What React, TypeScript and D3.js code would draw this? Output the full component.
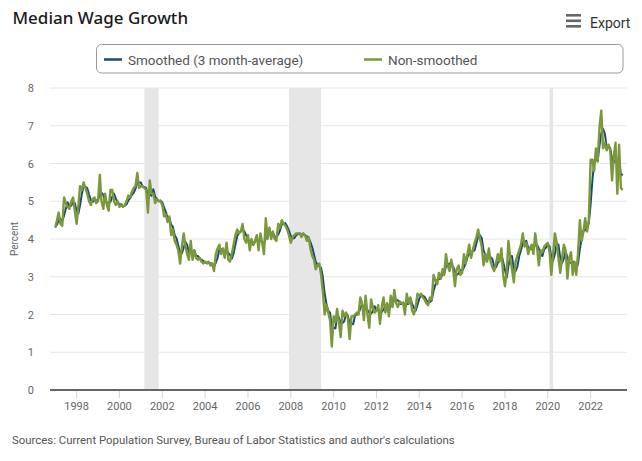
import React from "react";
import * as d3 from "d3";

const W = 642;
const H = 461;

const START_YEAR = 1997;

// Monthly values, Jan 1997 - Jul 2023
const nonSmoothed: number[] = [
  // 1997
  4.3, 4.5, 4.7, 4.4, 4.35, 5.1, 4.95, 4.85, 4.8, 5.0, 5.1, 4.75,
  // 1998
  4.4, 4.9, 5.4, 5.3, 5.5, 5.35, 5.2, 5.0, 4.9, 5.05, 5.1, 4.95,
  // 1999
  5.0, 5.7, 5.0, 4.8, 5.2, 4.9, 4.75, 5.3, 5.3, 5.0, 4.9, 5.0,
  // 2000
  4.85, 4.9, 4.85, 4.9, 5.0, 5.15, 5.1, 5.25, 5.35, 5.4, 5.75, 5.35,
  // 2001
  5.4, 5.4, 5.35, 5.3, 4.7, 5.55, 5.2, 5.2, 4.95, 5.05, 5.0, 5.0,
  // 2002
  4.9, 4.6, 4.65, 4.45, 4.6, 4.1, 4.25, 3.95, 3.85, 3.7, 3.35, 3.8,
  // 2003
  4.15, 3.8, 3.6, 3.45, 3.95, 3.45, 3.7, 3.5, 3.45, 3.5, 3.4, 3.35,
  // 2004
  3.4, 3.35, 3.4, 3.3, 3.35, 3.15, 3.6, 3.75, 3.85, 3.6, 3.75, 3.5,
  // 2005
  3.9, 3.45, 3.4, 3.6, 3.85, 4.1, 4.25, 4.15, 4.2, 4.4, 4.0, 3.9,
  // 2006
  4.1, 3.7, 4.0, 3.85, 3.95, 4.1, 3.7, 4.15, 3.9, 3.6, 4.55, 4.0,
  // 2007
  4.3, 4.0, 4.2, 4.0, 3.95, 4.4, 4.3, 4.5, 4.4, 4.35, 4.25, 4.1,
  // 2008
  3.9, 4.05, 4.1, 4.15, 4.15, 4.15, 4.05, 4.15, 4.1, 3.95, 4.05, 3.75,
  // 2009
  3.55, 3.45, 3.2, 3.3, 3.35, 3.05, 2.6, 2.0, 2.25, 2.05, 1.85, 1.15,
  // 2010
  1.95, 1.8, 2.15, 1.8, 1.4, 2.1, 1.95, 2.05, 1.9, 1.35, 1.95, 1.95,
  // 2011
  2.0, 2.05, 2.0, 2.45, 2.3, 1.85, 2.5, 2.0, 1.65, 2.4, 2.2, 2.05,
  // 2012
  2.1, 2.25, 1.75, 2.2, 2.45, 2.05, 2.3, 1.95, 2.5, 2.2, 2.65, 2.3,
  // 2013
  2.2, 2.35, 2.3, 2.3, 2.0, 2.55, 2.3, 2.45, 2.1, 2.0, 2.2, 2.55,
  // 2014
  2.5, 2.55, 2.45, 2.4, 2.3, 2.25, 2.45, 2.4, 3.05, 2.9, 2.8, 3.1,
  // 2015
  2.95, 3.2, 3.05, 3.6, 3.3, 3.15, 3.45, 3.2, 2.75, 3.2, 3.3, 3.05,
  // 2016
  3.1, 3.6, 3.35, 3.6, 3.85, 3.5, 3.7, 3.9, 4.05, 4.25, 4.0, 3.8,
  // 2017
  3.3, 3.6, 3.4, 3.75, 3.4, 3.25, 3.15, 3.35, 3.6, 3.4, 3.75, 3.05,
  // 2018
  2.75, 3.15, 3.95, 3.5, 3.2, 2.85, 3.4, 3.55, 3.7, 3.85, 4.15, 3.8,
  // 2019
  3.9, 3.6, 3.75, 3.85, 3.6, 4.15, 3.8, 3.3, 3.7, 3.65, 3.8, 3.85,
  // 2020
  3.9, 3.65, 3.05, 3.6, 4.15, 3.9, 3.5, 3.1, 3.5, 3.85, 3.7, 2.95,
  // 2021
  3.5, 3.65, 3.05, 3.4, 3.05, 3.65, 4.5, 3.95, 4.2, 4.55, 4.2, 4.5,
  // 2022
  6.1, 6.1, 5.8, 6.4, 6.05, 6.95, 7.4, 6.4, 6.55, 6.35, 6.5, 6.35,
  // 2023
  5.55, 6.2, 6.55, 5.2, 6.5, 5.35, 5.3,
];

const smoothed: number[] = [
  // 1997
  4.32, 4.38, 4.5, 4.53, 4.48, 4.62, 4.8, 4.97, 4.87, 4.88, 4.97, 4.95,
  // 1998
  4.75, 4.68, 4.9, 5.2, 5.4, 5.38, 5.35, 5.18, 5.03, 4.98, 5.02, 5.03,
  // 1999
  5.02, 5.22, 5.23, 5.17, 5.0, 4.97, 4.95, 4.98, 5.12, 5.2, 5.07, 4.97,
  // 2000
  4.92, 4.92, 4.87, 4.88, 4.92, 5.02, 5.08, 5.17, 5.23, 5.33, 5.5, 5.5,
  // 2001
  5.5, 5.38, 5.38, 5.35, 5.12, 5.18, 5.15, 5.32, 5.12, 5.07, 5.0, 5.02,
  // 2002
  4.97, 4.83, 4.72, 4.57, 4.57, 4.38, 4.32, 4.1, 4.02, 3.83, 3.63, 3.62,
  // 2003
  3.77, 3.92, 3.85, 3.62, 3.67, 3.62, 3.7, 3.55, 3.55, 3.48, 3.45, 3.42,
  // 2004
  3.38, 3.37, 3.38, 3.35, 3.35, 3.27, 3.37, 3.5, 3.73, 3.73, 3.73, 3.62,
  // 2005
  3.72, 3.62, 3.58, 3.48, 3.62, 3.85, 4.07, 4.17, 4.2, 4.25, 4.2, 4.1,
  // 2006
  4.0, 3.9, 3.93, 3.85, 3.93, 3.97, 3.92, 3.98, 3.92, 3.88, 4.02, 4.05,
  // 2007
  4.28, 4.1, 4.17, 4.07, 4.05, 4.12, 4.22, 4.4, 4.4, 4.42, 4.33, 4.23,
  // 2008
  4.08, 4.02, 4.02, 4.1, 4.13, 4.15, 4.12, 4.12, 4.1, 4.07, 4.03, 3.92,
  // 2009
  3.78, 3.58, 3.4, 3.32, 3.28, 3.23, 3.0, 2.55, 2.28, 2.1, 2.05, 1.68,
  // 2010
  1.65, 1.63, 1.97, 1.92, 1.78, 1.77, 1.82, 2.03, 1.97, 1.77, 1.73, 1.75,
  // 2011
  1.97, 2.0, 2.02, 2.17, 2.25, 2.2, 2.22, 2.12, 2.05, 2.02, 2.08, 2.22,
  // 2012
  2.12, 2.13, 2.03, 2.07, 2.13, 2.23, 2.27, 2.1, 2.25, 2.22, 2.45, 2.38,
  // 2013
  2.38, 2.28, 2.28, 2.32, 2.2, 2.28, 2.28, 2.43, 2.28, 2.18, 2.1, 2.25,
  // 2014
  2.42, 2.53, 2.5, 2.47, 2.38, 2.32, 2.33, 2.37, 2.63, 2.78, 2.92, 2.93,
  // 2015
  2.95, 3.08, 3.07, 3.28, 3.32, 3.35, 3.3, 3.27, 3.13, 3.05, 3.08, 3.18,
  // 2016
  3.15, 3.25, 3.35, 3.52, 3.6, 3.65, 3.68, 3.7, 3.88, 4.07, 4.1, 4.02,
  // 2017
  3.7, 3.57, 3.43, 3.58, 3.52, 3.47, 3.27, 3.25, 3.37, 3.45, 3.58, 3.4,
  // 2018
  3.18, 2.98, 3.28, 3.53, 3.55, 3.18, 3.15, 3.27, 3.55, 3.7, 3.9, 3.93,
  // 2019
  3.95, 3.77, 3.75, 3.73, 3.73, 3.87, 3.85, 3.75, 3.6, 3.55, 3.72, 3.77,
  // 2020
  3.85, 3.8, 3.53, 3.43, 3.6, 3.88, 3.85, 3.5, 3.37, 3.48, 3.68, 3.5,
  // 2021
  3.38, 3.37, 3.4, 3.37, 3.17, 3.37, 3.73, 4.03, 4.22, 4.23, 4.32, 4.42,
  // 2022
  4.93, 5.57, 6.0, 6.1, 6.08, 6.47, 6.8, 6.92, 6.78, 6.43, 6.47, 6.4,
  // 2023
  6.13, 6.03, 6.1, 5.98, 6.08, 5.68, 5.72,
];

const recessions: [string, string][] = [
  ["2001-03-01", "2001-11-01"],
  ["2007-12-01", "2009-06-01"],
  ["2020-02-01", "2020-04-01"],
];

const yTicks = [0, 1, 2, 3, 4, 5, 6, 7, 8];
const xTickYears = [1998, 2000, 2002, 2004, 2006, 2008, 2010, 2012, 2014, 2016, 2018, 2020, 2022];

const seriesNames = ["Smoothed (3 month-average)", "Non-smoothed"];
const SMOOTH_COLOR = "#1b4a70";
const RAW_COLOR = "#7a983c";

const FONT = "Roboto, 'Noto Sans', sans-serif";

export default function App() {
  const left = 50;
  const right = 627;
  const top = 88;
  const bottom = 390;

  const x = d3
    .scaleTime()
    .domain([new Date(1996, 9, 4), new Date(2023, 8, 13)])
    .range([left, right]);
  const y = d3.scaleLinear().domain([0, 8]).range([bottom, top]);

  const dates = nonSmoothed.map((_, i) => new Date(START_YEAR, i, 1));

  const line = d3
    .line<number>()
    .x((_, i) => x(dates[i]))
    .y((d) => y(d))
    .curve(d3.curveLinear);

  const parse = (s: string) => {
    const [yy, mm, dd] = s.split("-").map(Number);
    return new Date(yy, mm - 1, dd);
  };

  return (
    <svg
      width={W}
      height={H}
      viewBox={`0 0 ${W} ${H}`}
      style={{ position: "absolute", left: 0, top: 0, display: "block", background: "#fff" }}
    >
      <rect x={0} y={0} width={W} height={H} fill="#fff" />

      {/* Title */}
      <text x={12.5} y={24} fontFamily="'Noto Sans', sans-serif" fontSize={17} fontWeight={500} fill="#1a1a1a">
        Median Wage Growth
      </text>

      {/* Export button */}
      <g fill="#666">
        <rect x={566} y={14} width={15} height={2.6} />
        <rect x={566} y={19.5} width={15} height={2.6} />
        <rect x={566} y={25} width={15} height={2.6} />
      </g>
      <text x={590} y={28} fontFamily={FONT} fontSize={14} fill="#333">
        Export
      </text>

      {/* Legend */}
      <rect x={96.5} y={44.5} width={526.5} height={28.5} rx={5} ry={5} fill="#fff" stroke="#999" strokeWidth={1} />
      <line x1={104} x2={122} y1={59.5} y2={59.5} stroke={SMOOTH_COLOR} strokeWidth={2.5} />
      <text x={128} y={64.5} fontFamily={FONT} fontSize={13.5} fill="#555">
        {seriesNames[0]}
      </text>
      <line x1={364} x2={382} y1={59.5} y2={59.5} stroke={RAW_COLOR} strokeWidth={2.5} />
      <text x={388} y={64.5} fontFamily={FONT} fontSize={13.5} fill="#555">
        {seriesNames[1]}
      </text>

      {/* Recession bands */}
      {recessions.map(([a, b], i) => (
        <rect
          key={i}
          x={x(parse(a))}
          y={top}
          width={x(parse(b)) - x(parse(a))}
          height={bottom - top}
          fill="#e6e6e6"
        />
      ))}

      {/* Gridlines */}
      {yTicks
        .filter((t) => t > 0)
        .map((t) => (
          <line key={t} x1={left} x2={right} y1={y(t)} y2={y(t)} stroke="#e6e6e6" strokeWidth={1} />
        ))}

      {/* Y tick labels */}
      {yTicks.map((t) => (
        <text key={t} x={34} y={y(t) + 4} textAnchor="end" fontFamily={FONT} fontSize={11} fill="#666">
          {t}
        </text>
      ))}

      {/* Y axis title */}
      <text
        transform={`translate(18, ${(top + bottom) / 2}) rotate(-90)`}
        textAnchor="middle"
        fontFamily={FONT}
        fontSize={10}
        fill="#666"
      >
        Percent
      </text>

      {/* Series */}
      <path d={line(smoothed) || ""} fill="none" stroke={SMOOTH_COLOR} strokeWidth={2} strokeLinejoin="round" />
      <path d={line(nonSmoothed) || ""} fill="none" stroke={RAW_COLOR} strokeWidth={2.4} strokeLinejoin="round" />

      {/* X axis */}
      {xTickYears.map((yr) => {
        const xx = x(new Date(yr, 0, 1));
        return (
          <g key={yr}>
            <line x1={xx} x2={xx} y1={bottom} y2={bottom + 8} stroke="#ccd6eb" strokeWidth={1} />
            <text x={xx} y={410} textAnchor="middle" fontFamily={FONT} fontSize={11} fill="#666">
              {yr}
            </text>
          </g>
        );
      })}
      <line x1={left} x2={right} y1={bottom} y2={bottom} stroke="#666" strokeWidth={2} />

      {/* Source */}
      <text x={12} y={444} fontFamily={FONT} fontSize={11.4} fill="#555">
        Sources: Current Population Survey, Bureau of Labor Statistics and author's calculations
      </text>
    </svg>
  );
}
